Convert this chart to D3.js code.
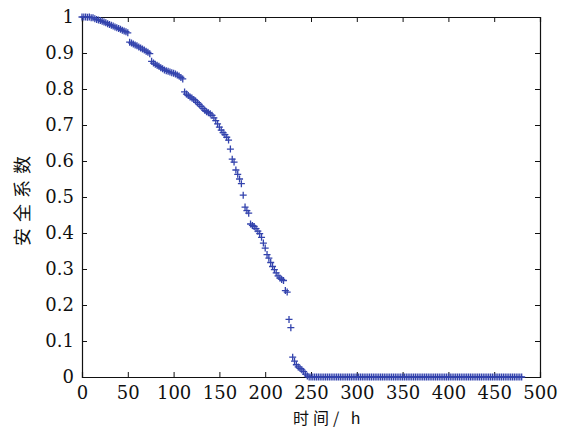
<!DOCTYPE html>
<html>
<head>
<meta charset="utf-8">
<script src="https://cdn.jsdelivr.net/npm/d3@7"></script>
<style>
  body { margin: 0; background: #fff; }
  svg { display: block; }
</style>
</head>
<body>
<svg id="chart" width="570" height="428"></svg>
<script>
// time (h) of each sample
var hours = [
    0, 2, 4, 6, 8, 10, 12, 14, 16, 18, 20, 22, 24, 26, 28, 30, 32, 34, 36, 38,
    40, 42, 44, 46, 48, 50, 52, 54, 56, 58, 60, 62, 64, 66, 68, 70, 72, 74, 76, 78,
    80, 82, 84, 86, 88, 90, 92, 94, 96, 98, 100, 102, 104, 106, 108, 110, 112, 114, 116, 118,
    120, 122, 124, 126, 128, 130, 132, 134, 136, 138, 140, 142, 144, 146, 148, 150, 152, 154, 156, 158,
    160, 162, 164, 166, 168, 170, 172, 174, 176, 178, 180, 182, 184, 186, 188, 190, 192, 194, 196, 198,
    200, 202, 204, 206, 208, 210, 212, 214, 216, 218, 220, 222, 224, 226, 228, 230, 232, 234, 236, 238,
    240, 242, 244, 246, 248, 250, 252, 254, 256, 258, 260, 262, 264, 266, 268, 270, 272, 274, 276, 278,
    280, 282, 284, 286, 288, 290, 292, 294, 296, 298, 300, 302, 304, 306, 308, 310, 312, 314, 316, 318,
    320, 322, 324, 326, 328, 330, 332, 334, 336, 338, 340, 342, 344, 346, 348, 350, 352, 354, 356, 358,
    360, 362, 364, 366, 368, 370, 372, 374, 376, 378, 380, 382, 384, 386, 388, 390, 392, 394, 396, 398,
    400, 402, 404, 406, 408, 410, 412, 414, 416, 418, 420, 422, 424, 426, 428, 430, 432, 434, 436, 438,
    440, 442, 444, 446, 448, 450, 452, 454, 456, 458, 460, 462, 464, 466, 468, 470, 472, 474, 476, 478,
    480
];

// safety factor
var safety = [
    1.000, 1.000, 1.000, 0.999, 1.000, 0.998, 0.998, 0.995, 0.993, 0.992, 0.990, 0.988, 0.986, 0.984, 0.981, 0.979, 0.977, 0.975, 0.972, 0.970,
    0.968, 0.966, 0.963, 0.961, 0.959, 0.956, 0.930, 0.928, 0.925, 0.922, 0.920, 0.917, 0.914, 0.911, 0.908, 0.905, 0.902, 0.898, 0.877, 0.872,
    0.869, 0.866, 0.863, 0.859, 0.856, 0.853, 0.851, 0.849, 0.847, 0.845, 0.844, 0.842, 0.839, 0.836, 0.832, 0.828, 0.792, 0.786, 0.782, 0.778,
    0.775, 0.771, 0.767, 0.762, 0.757, 0.752, 0.746, 0.741, 0.737, 0.734, 0.731, 0.727, 0.720, 0.712, 0.703, 0.694, 0.686, 0.679, 0.673, 0.666,
    0.658, 0.633, 0.605, 0.597, 0.575, 0.563, 0.550, 0.537, 0.505, 0.472, 0.462, 0.455, 0.425, 0.421, 0.418, 0.412, 0.405, 0.398, 0.388, 0.372,
    0.358, 0.340, 0.330, 0.318, 0.307, 0.298, 0.289, 0.281, 0.275, 0.271, 0.268, 0.240, 0.236, 0.160, 0.137, 0.055, 0.044, 0.034, 0.028, 0.024,
    0.020, 0.015, 0.008, 0.003, 0.000, 0.000, 0.000, 0.000, 0.000, 0.000, 0.000, 0.000, 0.000, 0.000, 0.000, 0.000, 0.000, 0.000, 0.000, 0.000,
    0.000, 0.000, 0.000, 0.000, 0.000, 0.000, 0.000, 0.000, 0.000, 0.000, 0.000, 0.000, 0.000, 0.000, 0.000, 0.000, 0.000, 0.000, 0.000, 0.000,
    0.000, 0.000, 0.000, 0.000, 0.000, 0.000, 0.000, 0.000, 0.000, 0.000, 0.000, 0.000, 0.000, 0.000, 0.000, 0.000, 0.000, 0.000, 0.000, 0.000,
    0.000, 0.000, 0.000, 0.000, 0.000, 0.000, 0.000, 0.000, 0.000, 0.000, 0.000, 0.000, 0.000, 0.000, 0.000, 0.000, 0.000, 0.000, 0.000, 0.000,
    0.000, 0.000, 0.000, 0.000, 0.000, 0.000, 0.000, 0.000, 0.000, 0.000, 0.000, 0.000, 0.000, 0.000, 0.000, 0.000, 0.000, 0.000, 0.000, 0.000,
    0.000, 0.000, 0.000, 0.000, 0.000, 0.000, 0.000, 0.000, 0.000, 0.000, 0.000, 0.000, 0.000, 0.000, 0.000, 0.000, 0.000, 0.000, 0.000, 0.000,
    0.000
];

var xTicks = [0, 50, 100, 150, 200, 250, 300, 350, 400, 450, 500];
var yTicks = [0, 0.1, 0.2, 0.3, 0.4, 0.5, 0.6, 0.7, 0.8, 0.9, 1];
var xTitle = "时间/ h";
var yTitle = "安全系数";

function draw_chart() {
    var canvas = d3.select("#chart"),
        margins = {"left": 82, "right": 30, "top": 17, "bottom": 51},
        width = 570,
        height = 428,
        tickLen = 5,
        color = "#3343ad",
        serif = "DejaVu Serif",
        cjk = "Noto Sans CJK SC";

    var x = d3.scaleLinear().domain([0, 500]).range([margins.left, width - margins.right]),
        y = d3.scaleLinear().domain([0, 1]).range([height - margins.bottom, margins.top]);

    var points = hours.map((h, i) => [h, safety[i]]);

    // bottom / left axes with inward ticks, MATLAB style
    var xAxis = d3.axisBottom(x).tickValues(xTicks).tickSize(-tickLen).tickPadding(tickLen + 4)
        .tickFormat(d3.format("d"));
    var yAxis = d3.axisLeft(y).tickValues(yTicks).tickSize(-tickLen).tickPadding(tickLen + 3)
        .tickFormat(d => d === 0 || d === 1 ? String(d) : d3.format(".1f")(d));

    canvas.append("g").classed("xaxis", true)
        .attr("transform", "translate(" + [0, y(0)] + ")")
        .call(xAxis);
    canvas.append("g").classed("yaxis", true)
        .attr("transform", "translate(" + [x(0), 0] + ")")
        .call(yAxis);

    // top / right ticks, no labels
    canvas.append("g").classed("xaxis-top", true)
        .attr("transform", "translate(" + [0, y(1)] + ")")
        .call(d3.axisTop(x).tickValues(xTicks).tickSize(-tickLen).tickFormat(""));
    canvas.append("g").classed("yaxis-right", true)
        .attr("transform", "translate(" + [x(500), 0] + ")")
        .call(d3.axisRight(y).tickValues(yTicks).tickSize(-tickLen).tickFormat(""));

    canvas.selectAll(".domain").attr("stroke", "#111").attr("stroke-width", 1.2);
    canvas.selectAll(".tick line").attr("stroke", "#111").attr("stroke-width", 1);
    canvas.selectAll(".tick text")
        .attr("fill", "#111")
        .style("font-family", serif)
        .style("font-size", "18px");

    // markers
    canvas.append("g")
        .attr("stroke", color)
        .attr("stroke-width", 1.3)
        .attr("fill", "none")
        .selectAll("path")
        .data(points)
        .enter().append("path")
        .attr("d", "M-3.5,0H3.5M0,-3.5V3.5")
        .attr("transform", d => "translate(" + [x(d[0]), y(d[1])] + ")");

    // titles
    canvas.append("text")
        .attr("x", 293).attr("y", 424)
        .style("font-family", cjk).style("font-size", "16px")
        .attr("letter-spacing", 4)
        .attr("fill", "#111")
        .text(xTitle);

    canvas.append("text")
        .attr("transform", "translate(" + [29, 246] + ") rotate(-90)")
        .style("font-family", cjk).style("font-size", "18px")
        .attr("letter-spacing", 6)
        .attr("fill", "#111")
        .text(yTitle);
}

draw_chart();
</script>
</body>
</html>
